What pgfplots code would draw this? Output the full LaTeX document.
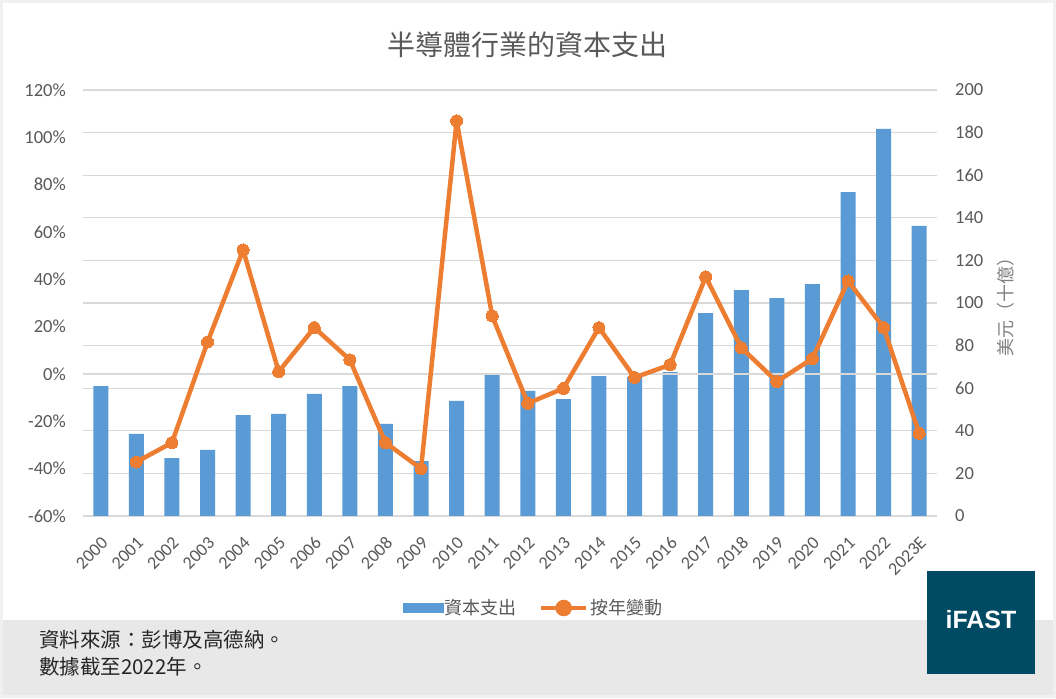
\documentclass[border=0pt]{standalone}
\usepackage{pgfplots}
\pgfplotsset{compat=1.18}
\usepackage{fontspec}
\setmainfont{Carlito}
\newfontfamily\cjk{Noto Sans CJK TC}
\newfontfamily\logofont{Liberation Sans}
\definecolor{barblue}{HTML}{5B9BD5}
\definecolor{lineorange}{HTML}{ED7D31}
\definecolor{txtgray}{HTML}{595959}
\definecolor{lblgray}{HTML}{808080}
\definecolor{gridgray}{HTML}{D9D9D9}
\definecolor{footgray}{HTML}{E8E8E8}
\definecolor{framegray}{HTML}{F0F0F0}
\definecolor{logoteal}{HTML}{004A63}
\definecolor{foottxt}{HTML}{262626}

\begin{document}
\begin{tikzpicture}[x=1pt,y=1pt]
\path[use as bounding box, fill=white] (0,0) rectangle (1056,698);
\fill[footgray] (0,3) rectangle (1056,78);
\draw[framegray, line width=3pt] (1.5,1.5) rectangle (1054.5,696.5);
\fill[logoteal] (927,24) rectangle (1035,127);
\node[text=white, font={\logofont\bfseries\fontsize{25}{25}\selectfont}] at (981,78) {iFAST};
\node[text=txtgray, font={\cjk\fontsize{28}{28}\selectfont}] at (527,653) {半導體行業的資本支出};
\node[anchor=west, text=foottxt, font={\cjk\fontsize{20.5}{20.5}\selectfont}, inner sep=0pt] at (39,58) {資料來源：彭博及高德納。};
\node[anchor=west, text=foottxt, font={\cjk\fontsize{20.5}{20.5}\selectfont}, inner sep=0pt] at (39,31) {數據截至2022年。};
\node[rotate=90, text=lblgray, font={\cjk\fontsize{18}{18}\selectfont}] at (1006,395) {美元（十億）};

% bars on right axis
\begin{axis}[
  at={(83pt,182pt)}, anchor=south west,
  scale only axis, width=854pt, height=426pt,
  xmin=-0.5, xmax=23.5, ymin=0, ymax=200,
  axis y line*=right,
  axis line style={draw=none},
  major tick length=0pt,
  ymajorgrids, grid style={gridgray, line width=1.3pt},
  ytick={0,20,...,200},
  yticklabels={0,20,40,60,80,100,120,140,160,180,200},
  yticklabel style={anchor=west, inner sep=0pt, xshift=18pt, text=txtgray, font={\fontsize{18.5}{18.5}\selectfont}},
  xtick={0,...,23},
  xticklabels={2000,2001,2002,2003,2004,2005,2006,2007,2008,2009,2010,2011,2012,2013,2014,2015,2016,2017,2018,2019,2020,2021,2022,2023E},
  xticklabel shift=0pt,
  xticklabel style={xshift=4pt, yshift=-24pt, rotate=45, anchor=east, inner sep=0pt, text=txtgray, font={\fontsize{18}{18}\selectfont}},
]
\addplot[ybar, bar width=15pt, fill=barblue, draw=none] coordinates {
(0,61.0) (1,38.5) (2,27.2) (3,31.0) (4,47.4) (5,47.9) (6,57.3) (7,61.0)
(8,43.2) (9,25.8) (10,54.0) (11,66.2) (12,58.7) (13,54.9) (14,65.7) (15,65.3)
(16,67.6) (17,95.3) (18,106.1) (19,102.3) (20,108.9) (21,152.1) (22,181.7) (23,136.2)
};
\end{axis}

% line on left axis
\begin{axis}[
  at={(83pt,182pt)}, anchor=south west,
  scale only axis, width=854pt, height=426pt,
  xmin=-0.5, xmax=23.5, ymin=-60, ymax=120,
  axis y line*=left,
  hide x axis,
  axis line style={draw=none},
  major tick length=0pt,
  ytick={-60,-40,...,120},
  yticklabels={-60\%,-40\%,-20\%,0\%,20\%,40\%,60\%,80\%,100\%,120\%},
  yticklabel style={anchor=east, inner sep=0pt, xshift=-17pt, text=txtgray, font={\fontsize{18.5}{18.5}\selectfont}},
  legend columns=2,
  legend style={at={(0.5275,-0.216)}, anchor=center, draw=none, fill=none,
    font={\cjk\fontsize{18}{18}\selectfont}, text=txtgray,
    /tikz/every even column/.append style={column sep=20pt}},
]
\draw[gridgray, line width=1.3pt] (axis cs:-0.5,0) -- (axis cs:23.5,0);
\addlegendimage{legend image code/.code={\fill[barblue] (0pt,-4.5pt) rectangle (40pt,4.5pt);}}
\addlegendentry{資本支出}
\addplot[lineorange, line width=4.5pt, line join=round, mark=*, mark size=6pt, mark options={fill=lineorange, draw=lineorange, line width=0pt},
  legend image code/.code={\draw[lineorange, line width=4.5pt] (0pt,0pt) -- (45pt,0pt); \fill[lineorange] (22.5pt,0pt) circle (6pt);}]
coordinates {
(1,-37.2) (2,-29.0) (3,13.5) (4,52.4) (5,1.0) (6,19.6) (7,6.0) (8,-29.0)
(9,-40.0) (10,107.0) (11,24.5) (12,-12.4) (13,-6.1) (14,19.6) (15,-1.5) (16,3.9)
(17,41.0) (18,11.1) (19,-3.2) (20,6.5) (21,39.3) (22,19.6) (23,-25.1)
};
\addlegendentry{按年變動}
\end{axis}
\end{tikzpicture}
\end{document}
